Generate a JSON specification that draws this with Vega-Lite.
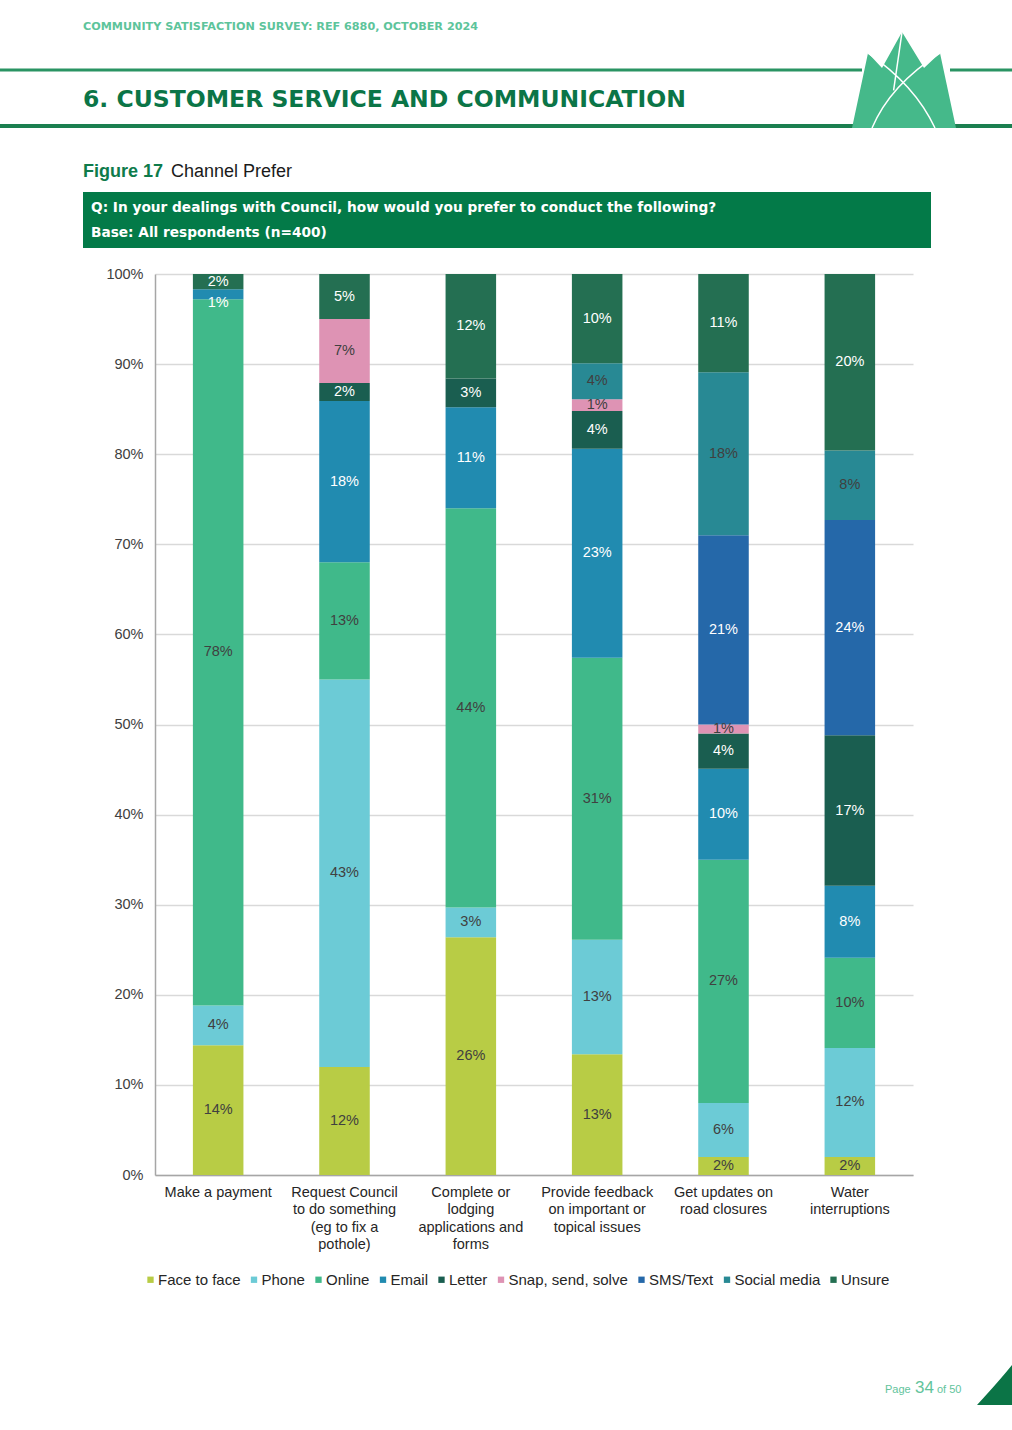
{
  "$schema": "https://vega.github.io/schema/vega-lite/v6.json",
  "padding": 0,
  "spacing": 0,
  "bounds": "flush",
  "background": "white",
  "config": {"font": "Liberation Sans", "view": {"stroke": null}},
  "vconcat": [
    {
      "width": 758,
      "height": 274,
      "data": {"values": [{}]},
      "layer": [
        {
          "mark": {"type": "text", "text": "COMMUNITY SATISFACTION SURVEY: REF 6880, OCTOBER 2024", "align": "left", "baseline": "middle", "font": "DejaVu Sans", "fontSize": 11.2, "fontWeight": "bold", "color": "#5dc49b"},
          "encoding": {
            "x": {"datum": 83, "type": "quantitative", "scale": {"domain": [155, 913], "nice": false, "zero": false}, "axis": null},
            "y": {"datum": 27, "type": "quantitative", "scale": {"domain": [0, 274], "reverse": true, "nice": false, "zero": false}, "axis": null}
          }
        },
        {
          "mark": {"type": "rect", "color": "#2a9463"},
          "encoding": {
            "x": {"datum": 0, "type": "quantitative"}, "x2": {"datum": 862},
            "y": {"datum": 68.5, "type": "quantitative"}, "y2": {"datum": 71.5}
          }
        },
        {
          "mark": {"type": "rect", "color": "#2a9463"},
          "encoding": {
            "x": {"datum": 950, "type": "quantitative"}, "x2": {"datum": 1012},
            "y": {"datum": 68.5, "type": "quantitative"}, "y2": {"datum": 71.5}
          }
        },
        {
          "mark": {"type": "rect", "color": "#1b7f50"},
          "encoding": {
            "x": {"datum": 0, "type": "quantitative"}, "x2": {"datum": 1012},
            "y": {"datum": 124, "type": "quantitative"}, "y2": {"datum": 128}
          }
        },
        {
          "mark": {"type": "text", "text": "6. CUSTOMER SERVICE AND COMMUNICATION", "align": "left", "baseline": "middle", "font": "DejaVu Sans", "fontSize": 23.5, "fontWeight": "bold", "color": "#0b7547"},
          "encoding": {"x": {"datum": 83, "type": "quantitative"}, "y": {"datum": 100, "type": "quantitative"}}
        },
        {
          "mark": {"type": "point", "shape": "M -1 0.923 L -0.692 -0.519 L -0.423 -0.231 L -0.038 -0.923 L 0.385 -0.231 L 0.692 -0.519 L 1 0.923 Z", "filled": true, "color": "#45b98a", "opacity": 1, "size": 10816, "strokeWidth": 0},
          "encoding": {"x": {"datum": 904, "type": "quantitative"}, "y": {"datum": 80, "type": "quantitative"}}
        },
        {
          "mark": {"type": "point", "shape": "M -0.692 -0.519 Q 0.212 0.096 0.596 0.923 M 0.692 -0.519 Q -0.269 0.096 -0.615 0.923 M -0.038 -0.923 L -0.2 0.2", "filled": false, "color": "white", "opacity": 1, "size": 10816, "strokeWidth": 1.5},
          "encoding": {"x": {"datum": 904, "type": "quantitative"}, "y": {"datum": 80, "type": "quantitative"}}
        },
        {
          "mark": {"type": "text", "text": "Figure 17", "align": "left", "baseline": "middle", "fontSize": 18, "fontWeight": "bold", "color": "#0e7b4b"},
          "encoding": {"x": {"datum": 83, "type": "quantitative"}, "y": {"datum": 172, "type": "quantitative"}}
        },
        {
          "mark": {"type": "text", "text": "Channel Prefer", "align": "left", "baseline": "middle", "fontSize": 18, "color": "#1a1a1a"},
          "encoding": {"x": {"datum": 171, "type": "quantitative"}, "y": {"datum": 172, "type": "quantitative"}}
        },
        {
          "mark": {"type": "rect", "color": "#037a48"},
          "encoding": {
            "x": {"datum": 83, "type": "quantitative"}, "x2": {"datum": 931},
            "y": {"datum": 192, "type": "quantitative"}, "y2": {"datum": 248}
          }
        },
        {
          "mark": {"type": "text", "text": "Q: In your dealings with Council, how would you prefer to conduct the following?", "align": "left", "baseline": "middle", "font": "DejaVu Sans", "fontSize": 13.7, "fontWeight": "bold", "color": "white"},
          "encoding": {"x": {"datum": 91, "type": "quantitative"}, "y": {"datum": 208, "type": "quantitative"}}
        },
        {
          "mark": {"type": "text", "text": "Base: All respondents (n=400)", "align": "left", "baseline": "middle", "font": "DejaVu Sans", "fontSize": 13.7, "fontWeight": "bold", "color": "white"},
          "encoding": {"x": {"datum": 91, "type": "quantitative"}, "y": {"datum": 233, "type": "quantitative"}}
        }
      ]
    },
    {
      "width": 758,
      "height": 901,
      "data": {
        "values": [
          {"task": "Make a payment", "channel": "Face to face", "pct": 0.144},
          {"task": "Make a payment", "channel": "Phone", "pct": 0.044},
          {"task": "Make a payment", "channel": "Online", "pct": 0.784},
          {"task": "Make a payment", "channel": "Email", "pct": 0.011},
          {"task": "Make a payment", "channel": "Unsure", "pct": 0.017},
          {"task": "Request Council\nto do something\n(eg to fix a\npothole)", "channel": "Face to face", "pct": 0.12},
          {"task": "Request Council\nto do something\n(eg to fix a\npothole)", "channel": "Phone", "pct": 0.43},
          {"task": "Request Council\nto do something\n(eg to fix a\npothole)", "channel": "Online", "pct": 0.13},
          {"task": "Request Council\nto do something\n(eg to fix a\npothole)", "channel": "Email", "pct": 0.179},
          {"task": "Request Council\nto do something\n(eg to fix a\npothole)", "channel": "Letter", "pct": 0.02},
          {"task": "Request Council\nto do something\n(eg to fix a\npothole)", "channel": "Snap, send, solve", "pct": 0.071},
          {"task": "Request Council\nto do something\n(eg to fix a\npothole)", "channel": "Unsure", "pct": 0.05},
          {"task": "Complete or\nlodging\napplications and\nforms", "channel": "Face to face", "pct": 0.264},
          {"task": "Complete or\nlodging\napplications and\nforms", "channel": "Phone", "pct": 0.033},
          {"task": "Complete or\nlodging\napplications and\nforms", "channel": "Online", "pct": 0.443},
          {"task": "Complete or\nlodging\napplications and\nforms", "channel": "Email", "pct": 0.112},
          {"task": "Complete or\nlodging\napplications and\nforms", "channel": "Letter", "pct": 0.032},
          {"task": "Complete or\nlodging\napplications and\nforms", "channel": "Unsure", "pct": 0.116},
          {"task": "Provide feedback\non important or\ntopical issues", "channel": "Face to face", "pct": 0.134},
          {"task": "Provide feedback\non important or\ntopical issues", "channel": "Phone", "pct": 0.127},
          {"task": "Provide feedback\non important or\ntopical issues", "channel": "Online", "pct": 0.313},
          {"task": "Provide feedback\non important or\ntopical issues", "channel": "Email", "pct": 0.232},
          {"task": "Provide feedback\non important or\ntopical issues", "channel": "Letter", "pct": 0.042},
          {"task": "Provide feedback\non important or\ntopical issues", "channel": "Snap, send, solve", "pct": 0.013},
          {"task": "Provide feedback\non important or\ntopical issues", "channel": "Social media", "pct": 0.04},
          {"task": "Provide feedback\non important or\ntopical issues", "channel": "Unsure", "pct": 0.099},
          {"task": "Get updates on\nroad closures", "channel": "Face to face", "pct": 0.02},
          {"task": "Get updates on\nroad closures", "channel": "Phone", "pct": 0.06},
          {"task": "Get updates on\nroad closures", "channel": "Online", "pct": 0.27},
          {"task": "Get updates on\nroad closures", "channel": "Email", "pct": 0.101},
          {"task": "Get updates on\nroad closures", "channel": "Letter", "pct": 0.039},
          {"task": "Get updates on\nroad closures", "channel": "Snap, send, solve", "pct": 0.01},
          {"task": "Get updates on\nroad closures", "channel": "SMS/Text", "pct": 0.21},
          {"task": "Get updates on\nroad closures", "channel": "Social media", "pct": 0.181},
          {"task": "Get updates on\nroad closures", "channel": "Unsure", "pct": 0.109},
          {"task": "Water\ninterruptions", "channel": "Face to face", "pct": 0.02},
          {"task": "Water\ninterruptions", "channel": "Phone", "pct": 0.121},
          {"task": "Water\ninterruptions", "channel": "Online", "pct": 0.1},
          {"task": "Water\ninterruptions", "channel": "Email", "pct": 0.08},
          {"task": "Water\ninterruptions", "channel": "Letter", "pct": 0.167},
          {"task": "Water\ninterruptions", "channel": "SMS/Text", "pct": 0.239},
          {"task": "Water\ninterruptions", "channel": "Social media", "pct": 0.077},
          {"task": "Water\ninterruptions", "channel": "Unsure", "pct": 0.196}
        ]
      },
      "transform": [
        {"calculate": "indexof(['Face to face', 'Phone', 'Online', 'Email', 'Letter', 'Snap, send, solve', 'SMS/Text', 'Social media', 'Unsure'], datum.channel)", "as": "ord"}
      ],
      "encoding": {
        "x": {
          "field": "task", "type": "nominal", "sort": null,
          "scale": {"paddingInner": 0.6, "paddingOuter": 0.3},
          "axis": {"title": null, "labelAngle": 0, "ticks": false, "labelPadding": 10, "labelFontSize": 14.5, "labelColor": "#262626", "labelLineHeight": 17.5, "labelExpr": "split(datum.label, '\\n')", "domainColor": "#a6a6a6", "domainWidth": 1.5, "labelLimit": 200}
        }
      },
      "layer": [
        {
          "mark": {"type": "bar"},
          "encoding": {
            "y": {"field": "pct", "type": "quantitative", "stack": "zero",
              "scale": {"domain": [0, 1], "nice": false},
              "axis": {"title": null, "values": [0, 0.1, 0.2, 0.3, 0.4, 0.5, 0.6, 0.7, 0.8, 0.9, 1], "format": ".0%", "grid": true, "gridColor": "#d9d9d9", "gridWidth": 1.5, "ticks": false, "labelPadding": 12, "labelFontSize": 14.5, "labelColor": "#404040", "domainColor": "#a6a6a6", "domainWidth": 1.5}},
            "order": {"field": "ord", "type": "quantitative", "sort": "ascending"},
            "color": {
              "field": "channel", "type": "nominal",
              "sort": ["Face to face", "Phone", "Online", "Email", "Letter", "Snap, send, solve", "SMS/Text", "Social media", "Unsure"],
              "scale": {"domain": ["Face to face", "Phone", "Online", "Email", "Letter", "Snap, send, solve", "SMS/Text", "Social media", "Unsure"],
                "range": ["#b8cc45", "#6ccbd6", "#40b98a", "#218bb0", "#1a5e50", "#de93b4", "#2568a9", "#288994", "#246f52"]},
              "legend": {"title": null, "orient": "none", "legendX": -12, "legendY": 998, "direction": "horizontal", "columns": 9, "symbolType": "square", "symbolSize": 40, "labelFontSize": 15, "labelColor": "#262626", "columnPadding": 5.5, "labelOffset": 0, "symbolStrokeWidth": 0, "padding": 0}
            }
          }
        },
        {
          "mark": {"type": "text", "fontSize": 14.5, "baseline": "middle"},
          "encoding": {
            "y": {"field": "pct", "type": "quantitative", "stack": "zero", "bandPosition": 0.5},
            "order": {"field": "ord", "type": "quantitative", "sort": "ascending"},
            "text": {"condition": {"test": "datum.task == 'Make a payment' && datum.channel == 'Email'", "value": ""}, "field": "pct", "type": "quantitative", "format": ".0%"},
            "color": {
              "field": "channel", "type": "nominal",
              "sort": ["Face to face", "Phone", "Online", "Email", "Letter", "Snap, send, solve", "SMS/Text", "Social media", "Unsure"],
              "scale": {"domain": ["Face to face", "Phone", "Online", "Email", "Letter", "Snap, send, solve", "SMS/Text", "Social media", "Unsure"],
                "range": ["#404040", "#404040", "#404040", "#ffffff", "#ffffff", "#404040", "#ffffff", "#404040", "#ffffff"]},
              "legend": null
            }
          }
        },
        {
          "transform": [
            {"stack": "pct", "groupby": ["task"], "sort": [{"field": "ord", "order": "ascending"}], "as": ["y0", "y1"]},
            {"filter": "datum.task == 'Make a payment' && datum.channel == 'Email'"}
          ],
          "mark": {"type": "text", "fontSize": 14.5, "baseline": "middle", "dy": 14, "color": "#ffffff"},
          "encoding": {
            "y": {"field": "y1", "type": "quantitative"},
            "text": {"field": "pct", "type": "quantitative", "format": ".0%"}
          }
        }
      ],
      "resolve": {"scale": {"color": "independent"}}
    },
    {
      "width": 758,
      "height": 255,
      "data": {"values": [{}]},
      "layer": [
        {
          "mark": {"type": "text", "text": "Page", "align": "left", "baseline": "alphabetic", "fontSize": 11, "color": "#62c49c"},
          "encoding": {
            "x": {"datum": 885, "type": "quantitative", "scale": {"domain": [155, 913], "nice": false, "zero": false}, "axis": null},
            "y": {"datum": 1393, "type": "quantitative", "scale": {"domain": [1175, 1430], "reverse": true, "nice": false, "zero": false}, "axis": null}
          }
        },
        {
          "mark": {"type": "text", "text": "34", "align": "left", "baseline": "alphabetic", "fontSize": 17, "color": "#62c49c"},
          "encoding": {"x": {"datum": 915, "type": "quantitative"}, "y": {"datum": 1393, "type": "quantitative"}}
        },
        {
          "mark": {"type": "text", "text": "of 50", "align": "left", "baseline": "alphabetic", "fontSize": 11, "color": "#62c49c"},
          "encoding": {"x": {"datum": 937, "type": "quantitative"}, "y": {"datum": 1393, "type": "quantitative"}}
        },
        {
          "mark": {"type": "point", "shape": "M -0.944 1.111 Q 0.333 -0.278 1 -1.111 L 1 1.111 Z", "filled": true, "color": "#0b7446", "opacity": 1, "size": 1296, "strokeWidth": 0},
          "encoding": {"x": {"datum": 994, "type": "quantitative"}, "y": {"datum": 1385, "type": "quantitative"}}
        }
      ]
    }
  ]
}
